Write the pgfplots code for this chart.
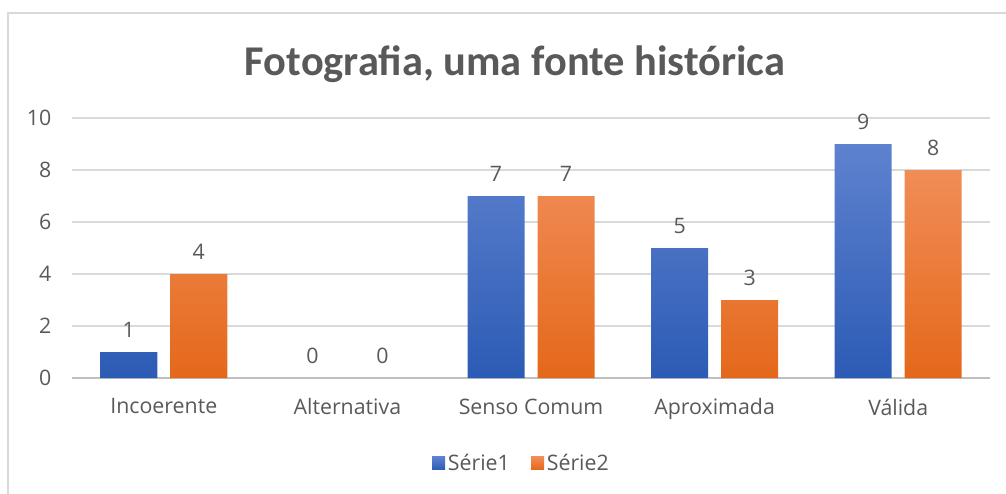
\documentclass[border=0pt]{standalone}
\usepackage{fontspec}
\setmainfont{Open Sans}
\newfontfamily\titlefont{Carlito}
\usepackage{pgfplots}
\pgfplotsset{compat=1.18}
\definecolor{txt}{HTML}{595959}
\definecolor{gridc}{HTML}{D9D9D9}
\definecolor{blueT}{HTML}{5E82CF}
\definecolor{blueB}{HTML}{2C5BB5}
\definecolor{orT}{HTML}{F18D57}
\definecolor{orB}{HTML}{E4681A}
\pgfplotsset{
  mylegend/.style={legend image code/.code={\fill[##1] (-3pt,-4.9pt) rectangle (6.75pt,4.9pt);}},
  lshift/.style={every node near coord/.append style={xshift=#1}},
}
\begin{document}
\begin{tikzpicture}
\useasboundingbox (0,0) rectangle (754.5pt,-369.75pt);
\draw[gridc, line width=1.5pt] (6pt,-380pt) -- (6pt,-9.75pt) -- (760pt,-9.75pt);
\node[font=\titlefont\bfseries\fontsize{31.8}{36}\selectfont, text=txt, anchor=base] at (386.25pt,-56.5pt) {Fotografia, uma fonte histórica};
\begin{axis}[
  at={(54pt,-283.5pt)}, anchor=south west,
  scale only axis, width=688.5pt, height=195pt,
  xmin=-0.5, xmax=4.5, ymin=0, ymax=10,
  xtick={0,...,4}, xticklabels={Incoerente,Alternativa,Senso Comum,Aproximada,Válida},
  ytick={0,2,...,10},
  ymajorgrids, grid style={gridc, line width=1.1pt},
  axis x line*=bottom, axis y line*=left,
  x axis line style={draw=gray!50, line width=1.1pt, -},
  y axis line style={draw=none},
  major tick length=0pt,
  tick label style={font=\fontsize{16}{18}\selectfont, text=txt},
  /pgf/number format/assume math mode=true,
  yticklabel style={xshift=-12pt},
  xticklabel style={yshift=-12pt},
  every node near coord/.append style={font=\fontsize{16}{18}\selectfont, text=txt, yshift=7.5pt},
  legend style={at={(0.49,-0.327)}, anchor=center, draw=none, legend columns=-1,
    font=\fontsize{16}{18}\selectfont, text=txt,
    /tikz/every even column/.append style={column sep=14pt}},
]
\addplot[ybar, bar width=42.75pt, bar shift=-26.25pt, draw=none, top color=blueT, bottom color=blueB, nodes near coords, lshift=-26.25pt, mylegend]
  coordinates {(0,1) (2,7) (3,5) (4,9)};
\addlegendentry{Série1}
\addplot[ybar, bar width=42.75pt, bar shift=26.25pt, draw=none, top color=orT, bottom color=orB, nodes near coords, lshift=26.25pt, mylegend]
  coordinates {(0,4) (2,7) (3,3) (4,8)};
\addlegendentry{Série2}
\addplot[ybar, bar width=42.75pt, bar shift=-26.25pt, draw=none, fill=none, nodes near coords, lshift=-26.25pt, forget plot]
  coordinates {(1,0)};
\addplot[ybar, bar width=42.75pt, bar shift=26.25pt, draw=none, fill=none, nodes near coords, lshift=26.25pt, forget plot]
  coordinates {(1,0)};
\end{axis}
\end{tikzpicture}
\end{document}
